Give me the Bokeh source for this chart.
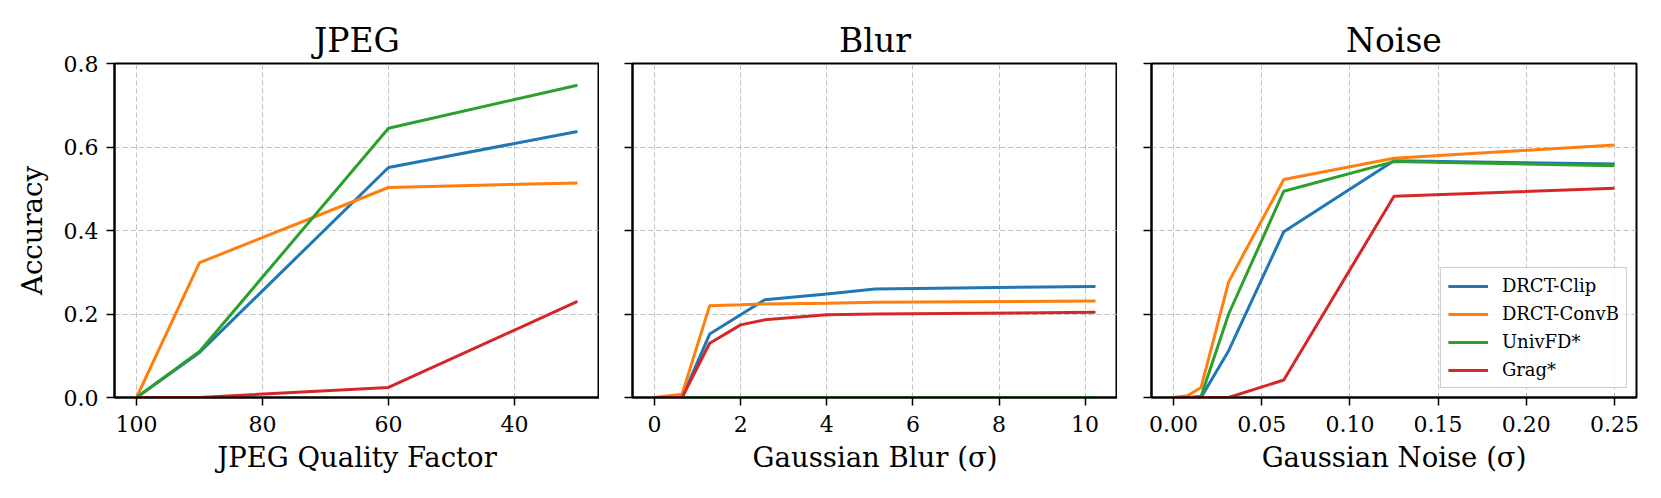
from bokeh.plotting import figure
from bokeh.layouts import row
from bokeh.models import (Range1d, FixedTicker, PrintfTickFormatter, Legend, LegendItem,
                          CustomJSTickFormatter)
from bokeh.embed import file_html
from bokeh.resources import INLINE

FONT = "DejaVu Serif"

series_names = ["DRCT-Clip", "DRCT-ConvB", "UnivFD*", "Grag*"]
colors = ["#1f77b4", "#ff7f0e", "#2ca02c", "#d62728"]

# JPEG panel
jpeg_quality = [100, 90, 60, 30]
jpeg_drct_clip = [0.0, 0.108, 0.551, 0.637]
jpeg_drct_convb = [0.0, 0.323, 0.503, 0.514]
jpeg_univfd = [0.0, 0.110, 0.645, 0.748]
jpeg_grag = [0.0, 0.0, 0.024, 0.230]

# Blur panel
blur_sigma = [0, 0.64, 1.28, 2.0, 2.56, 4.0, 5.12, 10.24]
blur_drct_clip = [0.0, 0.0, 0.152, 0.198, 0.234, 0.248, 0.260, 0.266]
blur_drct_convb = [0.0, 0.008, 0.220, 0.222, 0.224, 0.226, 0.228, 0.231]
blur_univfd = [0.0, 0.0, 0.0, 0.0, 0.0, 0.0, 0.0, 0.0]
blur_grag = [0.0, 0.0, 0.130, 0.174, 0.186, 0.198, 0.200, 0.204]

# Noise panel
noise_sigma = [0, 0.0078125, 0.015625, 0.03125, 0.0625, 0.125, 0.25]
noise_drct_clip = [0.0, 0.0, 0.0, 0.112, 0.397, 0.567, 0.559]
noise_drct_convb = [0.0, 0.004, 0.024, 0.277, 0.522, 0.573, 0.605]
noise_univfd = [0.0, 0.0, 0.003, 0.200, 0.494, 0.565, 0.555]
noise_grag = [0.0, 0.0, 0.0, 0.0, 0.042, 0.482, 0.501]

y_ticks = [0.0, 0.2, 0.4, 0.6, 0.8]
jpeg_ticks = [100, 80, 60, 40]
blur_ticks = [0, 2, 4, 6, 8, 10]
noise_ticks = [0.0, 0.05, 0.10, 0.15, 0.20, 0.25]

FW, FH = 485, 334
TOP = 63
BOTTOM = 498 - TOP - FH


def make_panel(title, xlabel, x, ys, x_range, xticks, xfmt, left_border, right_border, show_ylabels):
    p = figure(frame_width=FW, frame_height=FH, x_range=x_range, y_range=Range1d(0, 0.8),
               output_backend="svg", toolbar_location=None,
               min_border_left=left_border, min_border_right=right_border,
               min_border_top=TOP, min_border_bottom=BOTTOM)
    p.title.text = title
    p.title.align = "center"
    p.title.text_font = FONT
    p.title.text_font_size = "33px"
    p.title.text_font_style = "normal"
    p.title.text_color = "black"
    p.title.standoff = 7

    renderers = []
    for yv, c in zip(ys, colors):
        r = p.line(x, yv, line_color=c, line_width=3)
        renderers.append(r)

    p.outline_line_color = "black"
    p.outline_line_width = 2
    p.outline_line_alpha = 1
    p.background_fill_color = "white"
    p.border_fill_color = "white"

    for ax in (p.xaxis[0], p.yaxis[0]):
        ax.axis_line_color = "black"
        ax.axis_line_width = 2
        ax.major_tick_line_color = "black"
        ax.major_tick_line_width = 1.5
        ax.major_tick_out = 8
        ax.major_tick_in = 0
        ax.minor_tick_line_color = None
        ax.major_label_text_font = FONT
        ax.major_label_text_font_size = "22px"
        ax.major_label_text_color = "black"
        ax.axis_label_text_font = FONT
        ax.axis_label_text_font_size = "27.5px"
        ax.axis_label_text_font_style = "normal"
        ax.axis_label_text_color = "black"

    p.xaxis.ticker = FixedTicker(ticks=xticks)
    p.xaxis.formatter = PrintfTickFormatter(format=xfmt)
    p.xaxis.axis_label = xlabel
    p.xaxis.major_label_standoff = 10
    p.xaxis.axis_label_standoff = 6

    p.yaxis.ticker = FixedTicker(ticks=y_ticks)
    if show_ylabels:
        p.yaxis.formatter = PrintfTickFormatter(format="%.1f")
        p.yaxis.axis_label = "Accuracy"
        p.yaxis.major_label_standoff = 8
        p.yaxis.axis_label_standoff = 13
    else:
        p.yaxis.formatter = CustomJSTickFormatter(code="return ''")
        p.yaxis.major_label_standoff = 0

    for g in (p.xgrid[0], p.ygrid[0]):
        g.grid_line_color = "#b0b0b0"
        g.grid_line_width = 1
        g.grid_line_dash = "5 3"
        g.grid_line_alpha = 0.8
    p.xgrid.ticker = FixedTicker(ticks=xticks)
    p.ygrid.ticker = FixedTicker(ticks=y_ticks)
    return p, renderers


p1, _ = make_panel("JPEG", "JPEG Quality Factor", jpeg_quality,
                   [jpeg_drct_clip, jpeg_drct_convb, jpeg_univfd, jpeg_grag],
                   Range1d(103.5, 26.5), jpeg_ticks, "%d", 114, 0, True)
p2, _ = make_panel("Blur", "Gaussian Blur (σ)", blur_sigma,
                   [blur_drct_clip, blur_drct_convb, blur_univfd, blur_grag],
                   Range1d(-0.512, 10.752), blur_ticks, "%d", 33, 0, False)
p3, rs = make_panel("Noise", "Gaussian Noise (σ)", noise_sigma,
                    [noise_drct_clip, noise_drct_convb, noise_univfd, noise_grag],
                    Range1d(-0.0125, 0.2625), noise_ticks, "%.2f", 34, 25, False)

legend = Legend(items=[LegendItem(label=n, renderers=[r]) for n, r in zip(series_names, rs)],
                location="bottom_right")
legend.label_text_font = FONT
legend.label_text_font_size = "18px"
legend.label_text_color = "black"
legend.glyph_width = 40
legend.glyph_height = 20
legend.label_height = 20
legend.spacing = 7
legend.padding = 7
legend.margin = 9
legend.label_standoff = 14
legend.border_line_color = "#cccccc"
legend.border_line_width = 1.5
legend.border_line_alpha = 1
legend.background_fill_alpha = 0.8
p3.add_layout(legend, "center")

layout = row(p1, p2, p3, spacing=0)
open("out.html", "w").write(file_html(layout, INLINE))
